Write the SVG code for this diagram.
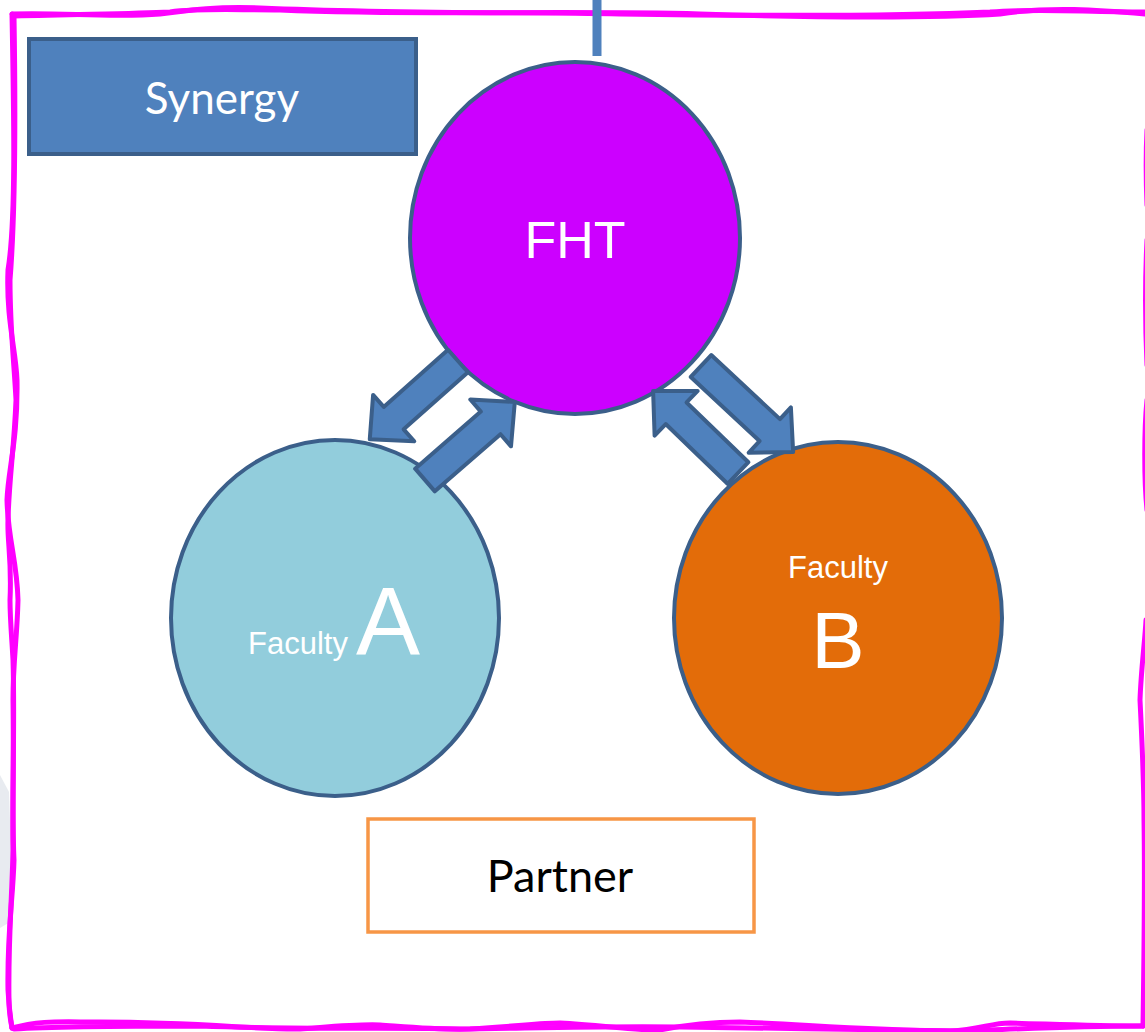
<svg xmlns="http://www.w3.org/2000/svg" width="1145" height="1032" viewBox="0 0 1145 1032">
<style>
.border{fill:none;stroke:#ff00ff;stroke-width:5;stroke-linecap:round;stroke-linejoin:round}
.arrow{fill:#4f81bd;stroke:#3b5f8a;stroke-width:4;stroke-linejoin:round}
.circ{stroke:#3b5f8a;stroke-width:4}
.cal{font-family:Lato,"Open Sans","Liberation Sans",sans-serif}
.ari{font-family:"Liberation Sans",Arial,sans-serif;fill:#ffffff}
</style>
<defs>
<path id="arr1" d="M0,-15 L86,-15 L86,-31 L118,0 L86,31 L86,15 L0,15 Z"/>
<path id="arr2" d="M0,-15 L87,-15 L87,-31 L119,0 L87,31 L87,15 L0,15 Z"/>
<path id="arr4" d="M0,-15 L94,-15 L94,-31 L126,0 L94,31 L94,15 L0,15 Z"/>
</defs>
<rect width="1145" height="1032" fill="#ffffff"/>
<polygon points="0,775 9,792 11,850 10,922 0,928" fill="#e8ebf0"/>
<g id="frame">
<path class="border" d="M12,14 C60,12 110,18 160,14 C190,10 220,6 260,8 C400,14 520,12 620,14 C760,16 900,16 990,12 C1040,8 1080,12 1145,12"/>
<path class="border" d="M14,16 C80,14 130,14 170,12 C200,8 230,10 280,10 C420,16 560,10 700,14 C820,18 940,18 1000,14 C1050,6 1100,10 1145,14"/>
<path class="border" d="M12,14 C14,120 16,220 8,270 C6,320 16,350 17,380 C18,440 8,470 7,500 C8,540 17,560 18,600 C17,640 13,660 13,700 C14,760 12,820 14,860 C13,900 7,930 8,990 C9,1010 11,1020 12,1028"/>
<path class="border" d="M14,16 C16,140 14,230 10,280 C10,330 14,360 16,400 C14,450 9,480 8,520 C7,540 12,560 10,600 C10,620 12,640 13,660 C15,720 12,800 13,850 C12,900 8,940 9,1000 C9,1015 11,1022 12,1028"/>
<path class="border" d="M12,1028 C40,1020 60,1022 100,1022 C200,1022 260,1030 300,1029 C340,1026 360,1024 380,1025 C420,1028 440,1030 470,1029 C520,1026 540,1023 560,1023 C600,1025 640,1031 660,1030 C690,1024 710,1022 740,1022 C800,1024 860,1030 950,1031 C980,1030 990,1023 1010,1023 C1050,1024 1090,1026 1143,1026"/>
<path class="border" d="M14,1029 C60,1026 120,1026 200,1026 C300,1030 400,1027 460,1029 C540,1028 600,1026 680,1027 C760,1028 900,1030 960,1031 C1000,1030 1060,1026 1143,1026"/>
<path class="border" d="M1143,1026 C1144,960 1145,880 1144,820 C1144,780 1141,720 1140,700 C1141,670 1145,640 1146,620"/>
<path class="border" d="M1147,510 C1144,480 1144,430 1147,400 M1147,365 C1145,320 1145,280 1147,240 M1147,205 C1146,180 1146,150 1147,130"/>
</g>
<g id="connectors">
<line x1="597" y1="0" x2="597" y2="56" stroke="#4f81bd" stroke-width="9"/>
</g>
<g id="synergy">
<rect x="29" y="39" width="387" height="115" fill="#4f81bd" stroke="#3b5f8a" stroke-width="4"/>
<text class="cal" x="222" y="114" font-size="44" fill="#ffffff" text-anchor="middle">Synergy</text>
</g>
<g id="fht">
<ellipse class="circ" cx="575" cy="238" rx="165" ry="176" fill="#cc00ff"/>
<text class="ari" x="575" y="258" font-size="52" text-anchor="middle">FHT</text>
</g>
<g id="facultyA">
<ellipse class="circ" cx="335" cy="618" rx="164" ry="178" fill="#92cddc"/>
<text class="ari" x="248" y="654" font-size="31">Faculty<tspan x="356" font-size="96">A</tspan></text>
</g>
<g id="facultyB">
<ellipse class="circ" cx="838" cy="618" rx="164" ry="176" fill="#e36c09"/>
<text class="ari" x="838" y="578" font-size="31" text-anchor="middle">Faculty</text>
<text class="ari" x="838" y="668" font-size="80" text-anchor="middle">B</text>
</g>
<g id="partner">
<rect x="368" y="819" width="386" height="113" fill="#ffffff" stroke="#f79646" stroke-width="3.5"/>
<text class="cal" x="560" y="892" font-size="45" fill="#000000" text-anchor="middle">Partner</text>
</g>
<g id="arrows">
<use href="#arr1" class="arrow" transform="translate(458,361) rotate(138.4)"/>
<use href="#arr2" class="arrow" transform="translate(425,480) rotate(-41)"/>
<use href="#arr1" class="arrow" transform="translate(738,473) rotate(-136)"/>
<use href="#arr4" class="arrow" transform="translate(701,366) rotate(43)"/>
</g>
</svg>
